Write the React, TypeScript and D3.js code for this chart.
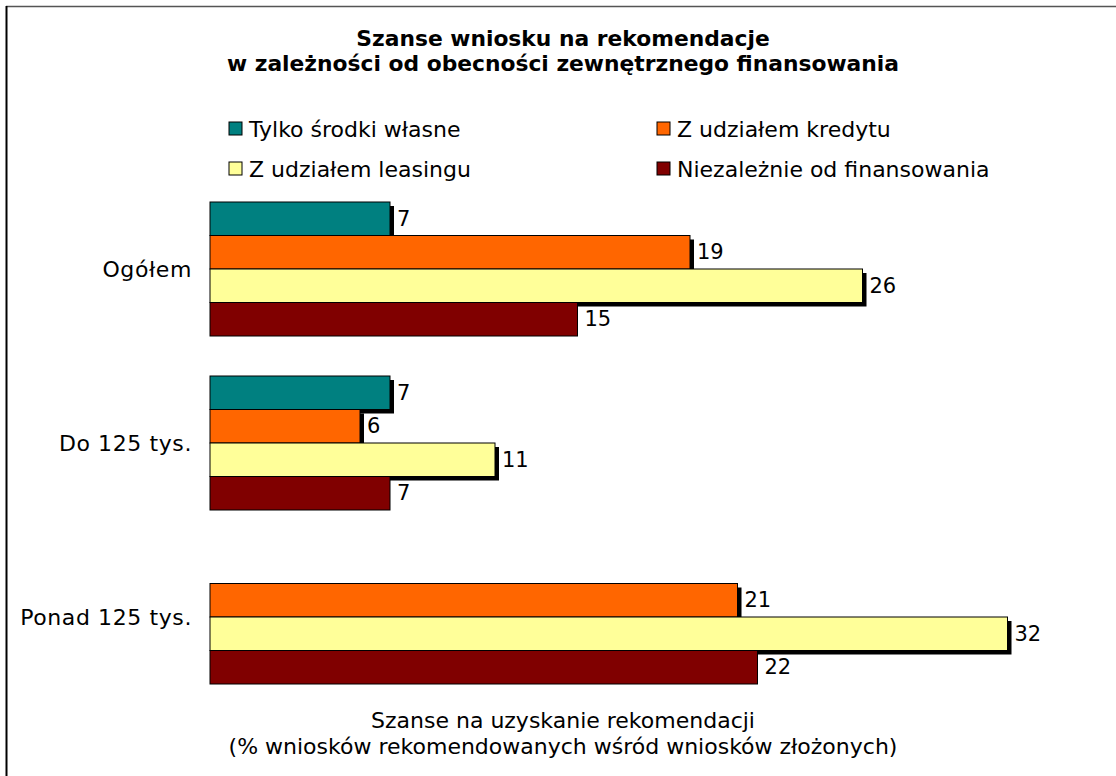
import React from "react";
import * as d3 from "d3";

const categories = ["Ogółem", "Do 125 tys.", "Ponad 125 tys."];
const seriesNames = ["Tylko środki własne", "Z udziałem kredytu", "Z udziałem leasingu", "Niezależnie od finansowania"];
const seriesColors = ["#008080", "#FF6600", "#FFFF99", "#800000"];
const seriesShadow = [true, true, true, false];
const tylkoWlasne: (number | null)[] = [7.2, 7.2, null];
const zKredytem: (number | null)[] = [19.2, 6.0, 21.1];
const zLeasingiem: (number | null)[] = [26.1, 11.4, 31.9];
const niezaleznie: (number | null)[] = [14.7, 7.2, 21.9];
const seriesValues = [tylkoWlasne, zKredytem, zLeasingiem, niezaleznie];
const titleLines = ["Szanse wniosku na rekomendacje", "w zależności od obecności zewnętrznego finansowania"];
const axisTitleLines = ["Szanse na uzyskanie rekomendacji", "(% wniosków rekomendowanych wśród wniosków złożonych)"];

const W = 1116;
const H = 776;
const FONT = "'DejaVu Sans', Verdana, sans-serif";

export default function App() {
  const x = d3.scaleLinear().domain([0, 35]).range([210, 1085]);
  const y = d3
    .scaleBand<string>()
    .domain(categories)
    .range([182, 704])
    .paddingInner(40 / 174)
    .paddingOuter(20 / 174);
  const inner = d3
    .scaleBand<number>()
    .domain(d3.range(seriesNames.length))
    .range([0, y.bandwidth()]);
  const fmt = d3.format(".0f");
  const shadow = 4;

  const legendPos = [
    { x: 229, y: 122 },
    { x: 657, y: 122 },
    { x: 229, y: 162 },
    { x: 657, y: 162 },
  ];

  return (
    <svg width={W} height={H} style={{ position: "absolute", left: 0, top: 0, background: "#fff" }}>
      <rect x={0} y={0} width={W} height={H} fill="#fff" />
      <line x1={6} y1={6.5} x2={W} y2={6.5} stroke="#555" strokeWidth={1.5} />
      <line x1={6.5} y1={6} x2={6.5} y2={H} stroke="#000" strokeWidth={2} />
      {titleLines.map((t, i) => (
        <text
          key={i}
          x={563}
          y={46 + i * 25}
          textAnchor="middle"
          fontFamily={FONT}
          fontWeight="bold"
          fontSize={21.8}
          fill="#000"
        >
          {t}
        </text>
      ))}
      {seriesNames.map((s, i) => (
        <g key={s}>
          <rect x={legendPos[i].x} y={legendPos[i].y} width={13} height={13} fill={seriesColors[i]} stroke="#000" strokeWidth={1} />
          <text x={legendPos[i].x + 20} y={legendPos[i].y + 7} dominantBaseline="central" fontFamily={FONT} fontSize={22} fill="#000">
            {s}
          </text>
        </g>
      ))}
      {categories.map((c, ci) => (
        <g key={c}>
          <text
            x={192}
            y={(y(c) as number) + y.bandwidth() / 2}
            textAnchor="end"
            dominantBaseline="central"
            fontFamily={FONT}
            fontSize={22}
            letterSpacing={0.6}
            fill="#000"
          >
            {c}
          </text>
          {seriesValues.map((vals, si) => {
            const v = vals[ci];
            if (v == null) return null;
            const by = (y(c) as number) + (inner(si) as number);
            const bh = inner.bandwidth();
            const bw = x(v) - x(0);
            return (
              <g key={si}>
                {seriesShadow[si] && (
                  <rect x={x(0) + shadow} y={by + shadow} width={bw} height={bh} fill="#000" />
                )}
                <rect x={x(0)} y={by} width={bw} height={bh} fill={seriesColors[si]} stroke="#000" strokeWidth={1} />
                <text
                  x={x(v) + 7}
                  y={by + bh / 2}
                  dominantBaseline="central"
                  fontFamily={FONT}
                  fontSize={21}
                  fill="#000"
                >
                  {fmt(v)}
                </text>
              </g>
            );
          })}
        </g>
      ))}
      {axisTitleLines.map((t, i) => (
        <text key={i} x={563} y={728 + i * 26} textAnchor="middle" fontFamily={FONT} fontSize={22} fill="#000">
          {t}
        </text>
      ))}
    </svg>
  );
}
